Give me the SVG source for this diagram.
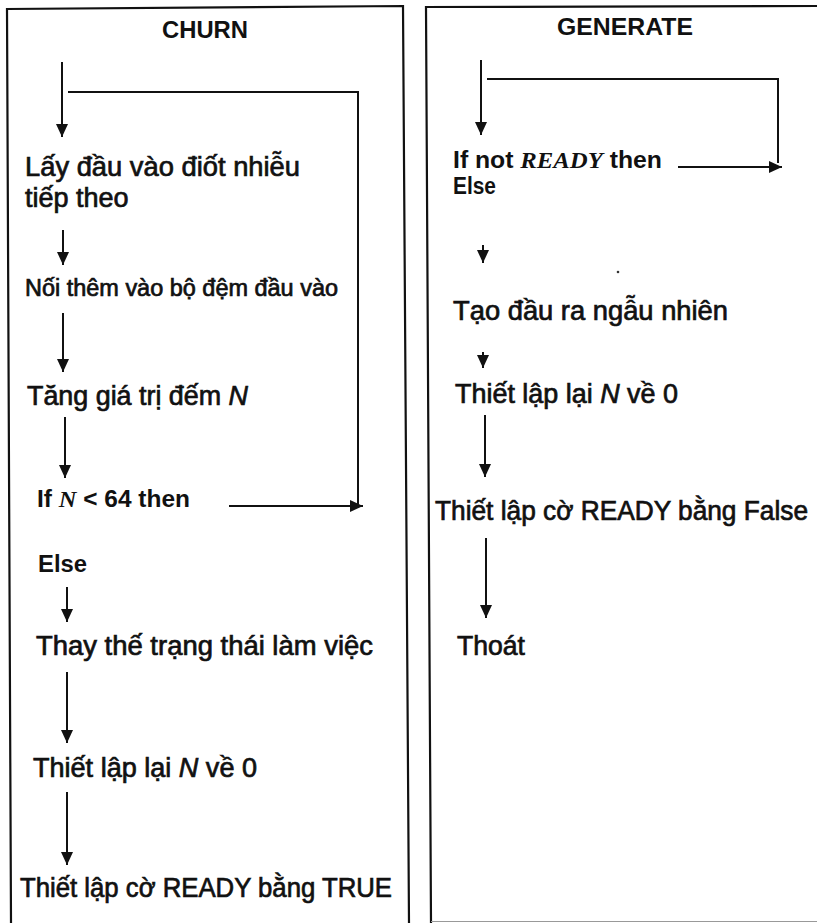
<svg xmlns="http://www.w3.org/2000/svg" width="817" height="923" viewBox="0 0 817 923">
<style>
  text { font-family: "Liberation Sans", Arial, sans-serif; fill: #111; }
  .h { font-weight: bold; font-size: 23px; }
  .b { font-size: 27px; stroke: #111; stroke-width: 0.7; }
  .k { font-weight: bold; font-size: 23px; }
  .it { font-style: italic; }
  .ser { font-family: "Liberation Serif", "Times New Roman", serif; font-style: italic; font-weight: bold; }
  .frame { fill: none; stroke: #111; stroke-width: 2.2; }
  .conn { fill: none; stroke: #111; stroke-width: 2; }
</style>
<defs>
  <marker id="ah" markerUnits="userSpaceOnUse" markerWidth="14" markerHeight="12" refX="13" refY="6" orient="auto">
    <path d="M0,0 L13,6 L0,12 z" fill="#111"/>
  </marker>
</defs>
<rect x="0" y="0" width="817" height="923" fill="#fff"/>

<g id="panel-churn">
  <path class="frame" d="M11,923 L7,9 L403,6 L409,923"/>
  <text class="h" x="205" y="38" text-anchor="middle" textLength="86" lengthAdjust="spacingAndGlyphs">CHURN</text>
</g>
<g id="panel-generate">
  <path class="frame" d="M431,923 L426,7 L817,6"/>
  <line x1="431" y1="921.5" x2="817" y2="921.5" stroke="#999" stroke-width="1.2"/>
  <text class="h" x="625" y="35" text-anchor="middle" textLength="136" lengthAdjust="spacingAndGlyphs">GENERATE</text>
</g>

<g id="c1">
  <text class="b" x="25" y="176" textLength="275" lengthAdjust="spacingAndGlyphs">Lấy đầu vào điốt nhiễu</text>
  <text class="b" x="25" y="207">tiếp theo</text>
</g>
<g id="c2"><text class="b" x="25" y="296" style="font-size:23px" textLength="313" lengthAdjust="spacingAndGlyphs">Nối thêm vào bộ đệm đầu vào</text></g>
<g id="c3"><text class="b" x="27" y="405" textLength="221" lengthAdjust="spacingAndGlyphs">Tăng giá trị đếm <tspan class="it">N</tspan></text></g>
<g id="c4"><text class="k" x="37" y="507" textLength="153" lengthAdjust="spacingAndGlyphs">If <tspan class="ser">N</tspan> &lt; 64 then</text></g>
<g id="c5"><text class="k" x="38" y="572" textLength="49" lengthAdjust="spacingAndGlyphs">Else</text></g>
<g id="c6"><text class="b" x="36" y="655" textLength="337" lengthAdjust="spacingAndGlyphs">Thay thế trạng thái làm việc</text></g>
<g id="c7"><text class="b" x="33" y="777" textLength="224" lengthAdjust="spacingAndGlyphs">Thiết lập lại <tspan class="it">N</tspan> về 0</text></g>
<g id="c8"><text class="b" x="20" y="897" textLength="372" lengthAdjust="spacingAndGlyphs">Thiết lập cờ READY bằng TRUE</text></g>

<g id="g1">
  <text class="k" x="453" y="168" textLength="209" lengthAdjust="spacingAndGlyphs">If not <tspan class="ser">READY</tspan> then</text>
  <text class="k" x="453" y="194" textLength="43" lengthAdjust="spacingAndGlyphs">Else</text>
</g>
<g id="g2"><text class="b" x="453" y="320" textLength="275" lengthAdjust="spacingAndGlyphs">Tạo đầu ra ngẫu nhiên</text></g>
<g id="g3"><text class="b" x="455" y="403" textLength="223" lengthAdjust="spacingAndGlyphs">Thiết lập lại <tspan class="it">N</tspan> về 0</text></g>
<g id="g4"><text class="b" x="435" y="520" textLength="373" lengthAdjust="spacingAndGlyphs">Thiết lập cờ READY bằng False</text></g>
<g id="g5"><text class="b" x="457" y="655" textLength="68" lengthAdjust="spacingAndGlyphs">Thoát</text></g>
<circle cx="618" cy="272" r="1.3" fill="#333"/>

<g id="connectors">
  <line class="conn" x1="62" y1="62" x2="62" y2="137" marker-end="url(#ah)"/>
  <polyline class="conn" points="68,92 358,92 358,504"/>
  <line class="conn" x1="229" y1="506" x2="363" y2="506" marker-end="url(#ah)"/>
  <line class="conn" x1="63" y1="230" x2="63" y2="265" marker-end="url(#ah)"/>
  <line class="conn" x1="63" y1="313" x2="63" y2="372" marker-end="url(#ah)"/>
  <line class="conn" x1="65" y1="417" x2="65" y2="478" marker-end="url(#ah)"/>
  <line class="conn" x1="67" y1="587" x2="67" y2="622" marker-end="url(#ah)"/>
  <line class="conn" x1="67" y1="672" x2="67" y2="743" marker-end="url(#ah)"/>
  <line class="conn" x1="67" y1="792" x2="67" y2="865" marker-end="url(#ah)"/>

  <line class="conn" x1="481" y1="60" x2="481" y2="135" marker-end="url(#ah)"/>
  <polyline class="conn" points="487,79 778,79 778,163"/>
  <line class="conn" x1="678" y1="167" x2="782" y2="167" marker-end="url(#ah)"/>
  <line class="conn" x1="483" y1="245" x2="483" y2="263" marker-end="url(#ah)"/>
  <line class="conn" x1="483" y1="352" x2="483" y2="368" marker-end="url(#ah)"/>
  <line class="conn" x1="485" y1="415" x2="485" y2="477" marker-end="url(#ah)"/>
  <line class="conn" x1="486" y1="538" x2="486" y2="618" marker-end="url(#ah)"/>
</g>
</svg>
